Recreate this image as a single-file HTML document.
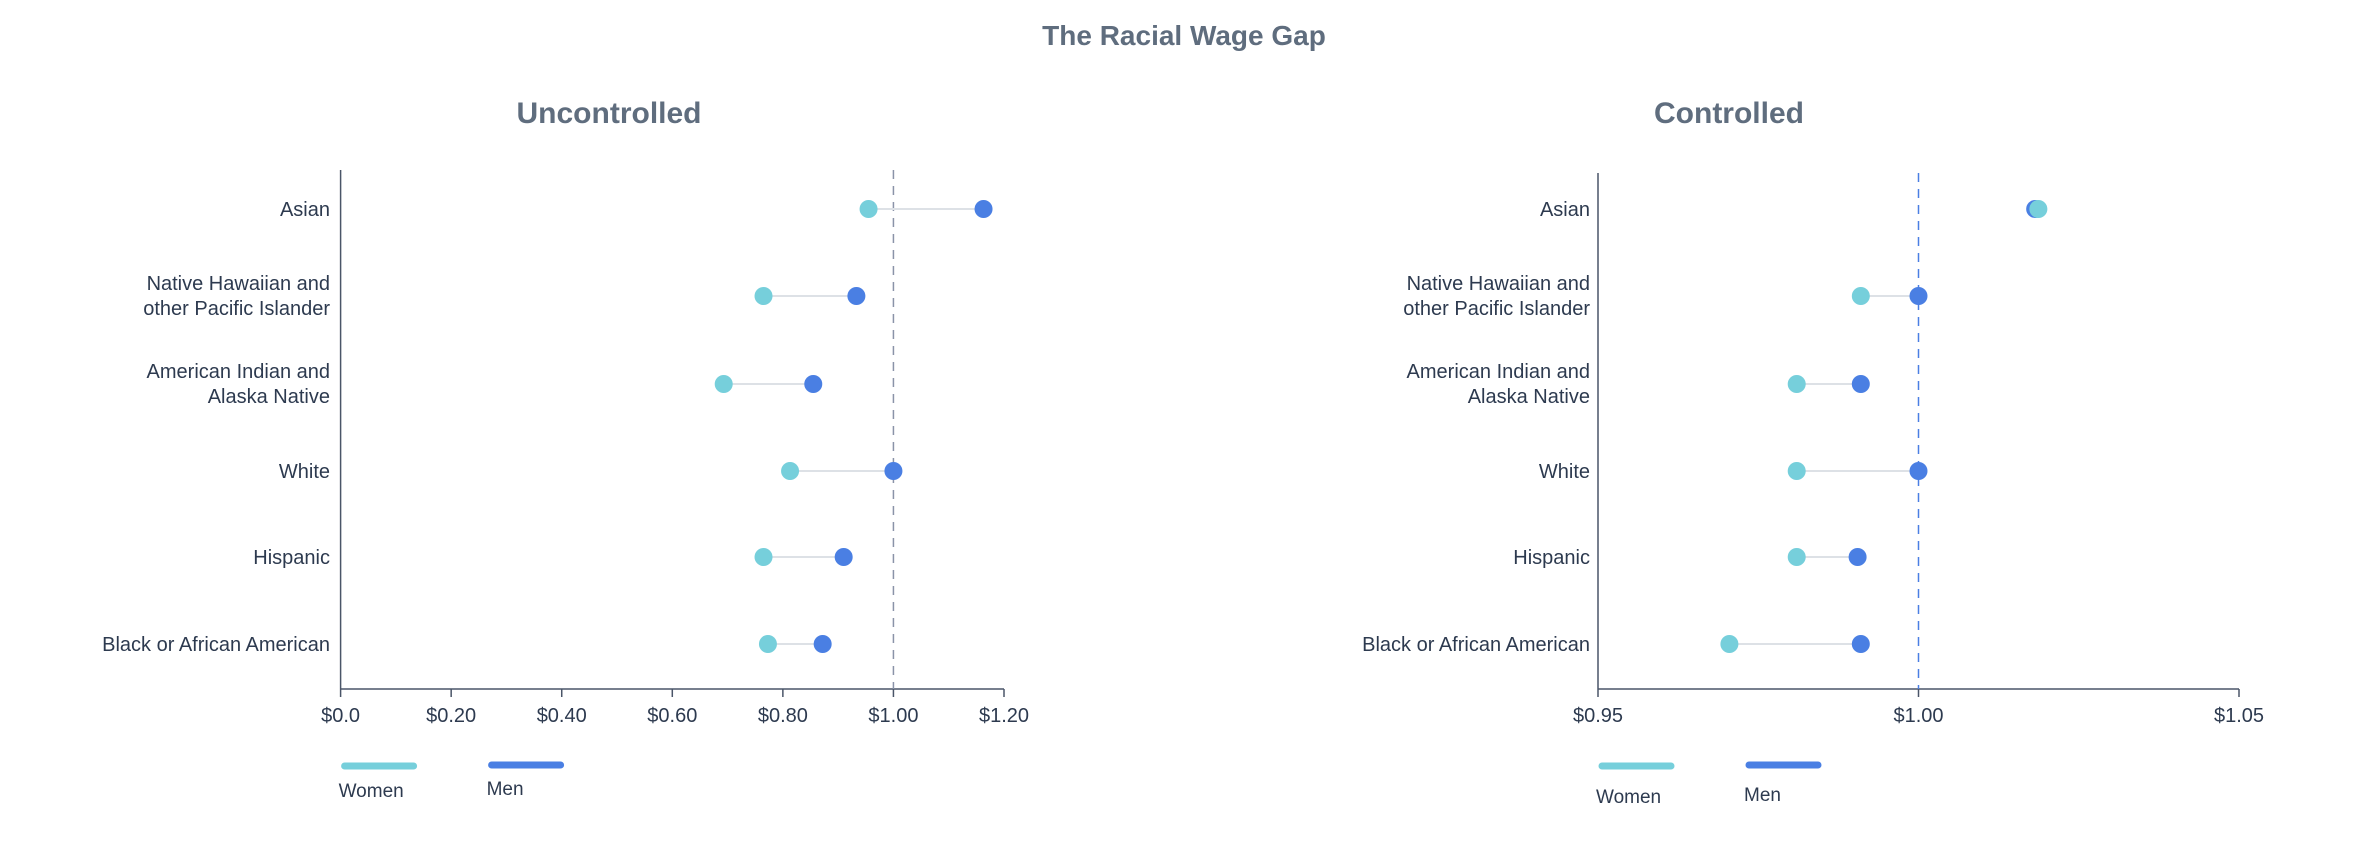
<!DOCTYPE html>
<html><head><meta charset="utf-8"><style>
html,body{margin:0;padding:0;background:#fff;width:2368px;height:846px;overflow:hidden}
text{font-family:"Liberation Sans",sans-serif}
</style></head><body>
<svg id="chart" width="2368" height="846" xmlns="http://www.w3.org/2000/svg">
<text x="1184" y="45" text-anchor="middle" font-size="28" font-weight="bold" fill="#5f6d7e">The Racial Wage Gap</text>
</svg>
<script>
const categories = ["Asian","Native Hawaiian and|other Pacific Islander","American Indian and|Alaska Native","White","Hispanic","Black or African American"];
const uncWomen = [0.955,0.765,0.693,0.813,0.765,0.773];
const uncMen = [1.163,0.933,0.855,1.0,0.91,0.872];
const conWomen = [1.0187,0.991,0.981,0.981,0.981,0.9705];
const conMen = [1.0182,1.0,0.991,1.0,0.9905,0.991];
const uncTicks = [0,0.2,0.4,0.6,0.8,1.0,1.2];
const uncTickLabels = ["$0.0","$0.20","$0.40","$0.60","$0.80","$1.00","$1.20"];
const conTicks = [0.95,1.0,1.05];
const conTickLabels = ["$0.95","$1.00","$1.05"];

const NS="http://www.w3.org/2000/svg";
const svg=document.getElementById('chart');
function mk(tag,attrs,parent){const e=document.createElementNS(NS,tag);for(const k in attrs)e.setAttribute(k,attrs[k]);(parent||svg).appendChild(e);return e;}
const rowY=[209,296,384,471,557,644];
function panel(cfg){
  const g=mk('g',{});
  
  
  const x=v=>cfg.x0+(v-cfg.d0)/(cfg.d1-cfg.d0)*(cfg.x1-cfg.x0);
  const t=mk('text',{x:cfg.titleX,y:123,'text-anchor':'middle','font-size':30,'font-weight':'bold',fill:'#5f6d7e'},g);
  t.textContent=cfg.title;
  
  
  const ya=mk('line',{x1:cfg.x0,x2:cfg.x0,y1:cfg.top,y2:689,stroke:'#4a5568','stroke-width':1.5},g);
  
  
  const xa=mk('line',{x1:cfg.x0,x2:cfg.x1,y1:689,y2:689,stroke:'#4a5568','stroke-width':1.5},g);
  
  
  cfg.ticks.forEach((v,i)=>{
    mk('line',{x1:x(v),x2:x(v),y1:689,y2:697,stroke:'#4a5568','stroke-width':1.5},g);
    const tl=mk('text',{x:x(v),y:722,'text-anchor':'middle','font-size':20,fill:'#2d3a4f'},g);
    tl.textContent=cfg.tickLabels[i];
    
    
  });
  const ref=mk('line',{x1:x(1),x2:x(1),y1:cfg.top,y2:689,stroke:cfg.refColor,'stroke-width':1.5,'stroke-dasharray':'9,7'},g);
  
  
  categories.forEach((c,i)=>{
    const y=rowY[i];
    const parts=c.split('|');
    const lab=mk('text',{x:cfg.labelX,'text-anchor':'end','font-size':20,fill:'#2d3a4f'},g);
    
    
    parts.forEach((p,j)=>{const ts=mk('tspan',{x:cfg.labelX,y:parts.length===1?y+7:y-6+j*25},lab);ts.textContent=p;});
    const w=cfg.women[i],m=cfg.men[i];
    const cl=mk('line',{x1:x(w),x2:x(m),y1:y,y2:y,stroke:'#dde1e6','stroke-width':2},g);
    
    
    const cm=mk('circle',{cx:x(m),cy:y,r:9,fill:'#4a7fe3'},g);
    
    
    const cw=mk('circle',{cx:x(w),cy:y,r:9,fill:'#76cfdb'},g);
    
    
  });
  const lw=mk('line',{x1:cfg.x0+4,x2:cfg.x0+73,y1:766,y2:766,stroke:'#76cfdb','stroke-width':7,'stroke-linecap':'round'},g);
  
  
  const lm=mk('line',{x1:cfg.x0+151,x2:cfg.x0+220,y1:765,y2:765,stroke:'#4a7fe3','stroke-width':7,'stroke-linecap':'round'},g);
  
  
  const tw=mk('text',{x:cfg.x0-2,y:cfg.legY,'font-size':19,fill:'#2d3a4f'},g);tw.textContent='Women';
  
  
  const tm=mk('text',{x:cfg.x0+146,y:cfg.legY-2,'font-size':19,fill:'#2d3a4f'},g);tm.textContent='Men';
  
  
}
panel({name:'uncontrolled-panel',title:'Uncontrolled',titleX:609,x0:340.6,x1:1004,d0:0,d1:1.2,top:170,labelX:330,women:uncWomen,men:uncMen,ticks:uncTicks,tickLabels:uncTickLabels,refColor:'#8a93a8',legY:797});
panel({name:'controlled-panel',title:'Controlled',titleX:1729,x0:1598,x1:2239,d0:0.95,d1:1.05,top:173,labelX:1590,women:conWomen,men:conMen,ticks:conTicks,tickLabels:conTickLabels,refColor:'#4a7fe3',legY:803});
</script>
</body></html>
